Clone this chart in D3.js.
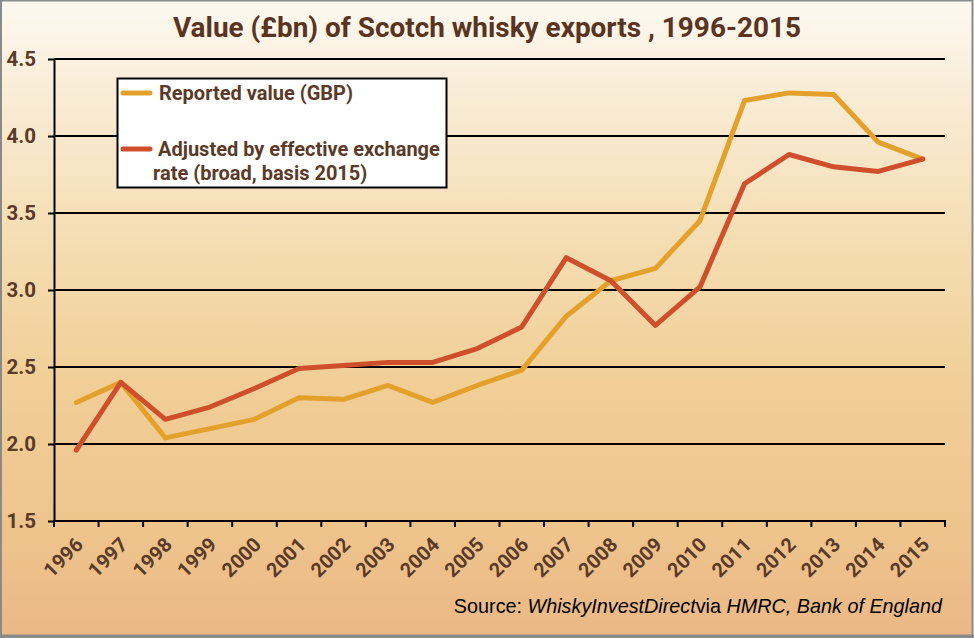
<!DOCTYPE html>
<html><head><meta charset="utf-8">
<script src="https://cdn.jsdelivr.net/npm/d3@7"></script>
<style>html,body{margin:0;padding:0;background:#fff}svg{display:block}</style>
</head><body>
<script>
const years = ["1996","1997","1998","1999","2000","2001","2002","2003","2004","2005","2006","2007","2008","2009","2010","2011","2012","2013","2014","2015"];
const reported = [2.27,2.40,2.04,2.10,2.16,2.30,2.29,2.38,2.27,2.38,2.48,2.83,3.06,3.14,3.45,4.23,4.28,4.27,3.96,3.85];
const adjusted = [1.96,2.40,2.16,2.24,2.36,2.49,2.51,2.53,2.53,2.62,2.76,3.21,3.06,2.77,3.02,3.69,3.88,3.80,3.77,3.85];
const yTicks = [1.5,2.0,2.5,3.0,3.5,4.0,4.5];
const seriesNames = ["Reported value (GBP)", ["Adjusted by effective exchange","rate (broad, basis 2015)"]];
const titleText = "Value (£bn) of Scotch whisky exports , 1996-2015";

const W = 974, H = 638;
const m = {left:54, right:945, top:59, bottom:521};
const brown = "#5b3a27";
const cOrange = "#e3a02a", cRed = "#cf4f2d";

const svg = d3.select("body").append("svg").attr("width",W).attr("height",H);
const defs = svg.append("defs");
const grad = defs.append("linearGradient").attr("id","bg").attr("x1",0).attr("y1",0).attr("x2",0).attr("y2",1);
[[0,"#fdf9f1"],[0.15,"#f9ecd6"],[0.35,"#f5dfb6"],[0.6,"#f1cf97"],[0.85,"#eec38c"],[1,"#ebb886"]].forEach(([o,c])=>grad.append("stop").attr("offset",o).attr("stop-color",c));
svg.append("rect").attr("x",1).attr("y",0.5).attr("width",W-2.5).attr("height",H-3).attr("fill","url(#bg)").attr("stroke","#8a8a8a").attr("stroke-width",2);
svg.append("rect").attr("x",0).attr("y",H-3).attr("width",W).attr("height",3).attr("fill","#8a8a8a");

const x = d3.scaleBand().domain(years).range([m.left,m.right]);
const y = d3.scaleLinear().domain([1.5,4.5]).range([m.bottom,m.top]);

// gridlines
svg.append("g").selectAll("line").data(yTicks.slice(1)).join("line")
  .attr("x1",m.left).attr("x2",m.right).attr("y1",d=>y(d)).attr("y2",d=>y(d))
  .attr("stroke","#000").attr("stroke-width",2);

// y axis
const ya = svg.append("g").attr("transform",`translate(${m.left},0)`)
  .call(d3.axisLeft(y).tickValues(yTicks).tickFormat(d3.format(".1f")).tickSize(6).tickSizeOuter(0));
ya.select(".domain").attr("stroke","#000").attr("stroke-width",2);
ya.selectAll(".tick line").attr("stroke","#000").attr("stroke-width",2);
ya.selectAll(".tick text").attr("x",-18).attr("dy","0.33em").attr("fill",brown).attr("font-family","Roboto, sans-serif").attr("font-weight","bold").attr("font-size",20.5);

// x axis with ticks at band edges
const xa = svg.append("g").attr("transform",`translate(0,${m.bottom})`);
xa.append("line").attr("x1",m.left-1).attr("x2",m.right+1).attr("stroke","#000").attr("stroke-width",2);
const edges = years.map(d=>x(d)).concat([m.right]);
xa.selectAll("line.t").data(edges).join("line").attr("class","t")
  .attr("x1",d=>d).attr("x2",d=>d).attr("y1",0).attr("y2",6).attr("stroke","#000").attr("stroke-width",2);
xa.selectAll("text").data(years).join("text")
  .attr("transform",d=>`translate(${x(d)+x.bandwidth()/2+8},${25}) rotate(-45)`)
  .attr("text-anchor","end").attr("fill",brown).attr("font-family","Roboto, sans-serif")
  .attr("font-weight","bold").attr("font-size",20).text(d=>d);

// lines
const line = d3.line().x((d,i)=>x(years[i])+x.bandwidth()/2).y(d=>y(d));
svg.append("path").datum(reported).attr("d",line).attr("fill","none").attr("stroke",cOrange).attr("stroke-width",5).attr("stroke-linejoin","round").attr("stroke-linecap","round");
svg.append("path").datum(adjusted).attr("d",line).attr("fill","none").attr("stroke",cRed).attr("stroke-width",5).attr("stroke-linejoin","round").attr("stroke-linecap","round");

// legend
const lg = svg.append("g");
lg.append("rect").attr("x",117.5).attr("y",78.5).attr("width",329).attr("height",109).attr("fill","#fff").attr("stroke","#000").attr("stroke-width",2);
const lt = {fill:brown,"font-family":"Roboto, sans-serif","font-weight":"bold","font-size":20};
lg.append("line").attr("x1",123).attr("x2",150).attr("y1",93).attr("y2",93).attr("stroke",cOrange).attr("stroke-width",5).attr("stroke-linecap","round");
let t1 = lg.append("text").attr("x",159).attr("y",100).text(seriesNames[0]);
lg.append("line").attr("x1",123).attr("x2",150).attr("y1",149).attr("y2",149).attr("stroke",cRed).attr("stroke-width",5).attr("stroke-linecap","round");
let t2 = lg.append("text").attr("x",158).attr("y",156).text(seriesNames[1][0]);
let t3 = lg.append("text").attr("x",153).attr("y",180).text(seriesNames[1][1]);
[t1,t2,t3].forEach(t=>Object.entries(lt).forEach(([k,v])=>t.attr(k,v)));

// title
svg.append("text").attr("x",487).attr("y",37).attr("text-anchor","middle")
  .attr("fill","#5a341f").attr("font-family","Roboto, sans-serif").attr("font-weight","bold")
  .attr("font-size",27).attr("textLength",628).attr("lengthAdjust","spacingAndGlyphs").text(titleText);

// source
const src = svg.append("text").attr("x",942).attr("y",613).attr("text-anchor","end")
  .attr("font-family","Arial, 'Liberation Sans', sans-serif").attr("font-size",19.8).attr("fill","#000");
src.append("tspan").text("Source: ");
src.append("tspan").attr("font-style","italic").text("WhiskyInvestDirect");
src.append("tspan").text("via ");
src.append("tspan").attr("font-style","italic").text("HMRC, Bank of England");
</script>
</body></html>
